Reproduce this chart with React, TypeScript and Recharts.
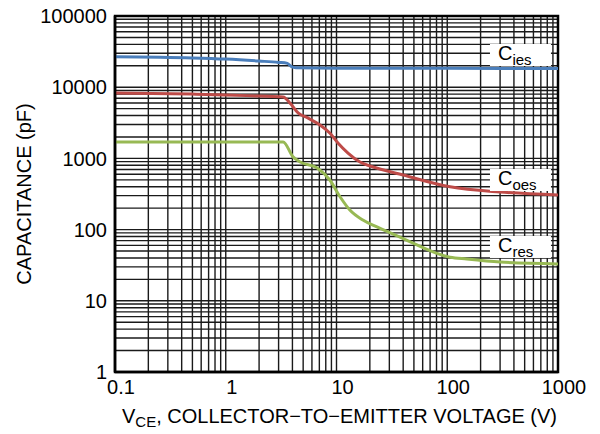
import {
  LineChart,
  Line,
  XAxis,
  YAxis,
  CartesianGrid,
  ReferenceArea,
  ReferenceDot,
  Label
} from "recharts";

const FONT = '"Liberation Sans", Arial, Helvetica, sans-serif';

// Cies: input capacitance
const iesVce = [0.1, 0.5, 1, 2, 3, 3.6, 3.9, 4.3, 10, 100, 1000];
const iesPf = [26800, 25800, 24800, 23300, 22300, 21600, 19500, 18700, 18500, 18400, 18300];

// Coes: output capacitance
const oesVce = [0.1, 0.5, 1, 2, 3.3, 3.8, 4.5, 5.5, 7.1, 8.7, 10.3, 12.7, 16.3, 21.4, 37, 106, 300, 1000];
const oesPf = [8300, 8000, 7800, 7500, 7300, 6000, 4350, 3700, 2950, 2270, 1650, 1190, 890, 757, 604, 400, 337, 306];

// Cres: reverse transfer capacitance
const resVce = [0.1, 1, 3.3, 4.05, 4.7, 6.7, 8.7, 10.8, 13.2, 17.3, 23.2, 37, 106, 150, 300, 1000];
const resPf = [1700, 1700, 1700, 1050, 890, 733, 497, 287, 188, 136, 109, 79, 41, 38.6, 35, 33];

const xDecades = [0.1, 1, 10, 100, 1000];
const yDecades = [1, 10, 100, 1000, 10000, 100000];
const minorSteps = [1, 2, 3, 4, 5, 6, 7, 8, 9];

// every 1..9 multiple inside each decade, so the grid gets a line for each
const logTicks = (decades: number[]) =>
  decades
    .slice(0, -1)
    .flatMap((d) => minorSteps.map((m) => Number((d * m).toPrecision(3))))
    .concat(decades[decades.length - 1]);

const toPoints = (vce: number[], pf: number[]) => vce.map((v, i) => ({ vce: v, pf: pf[i] }));

const decadeLabel = (decades: number[]) => (v: number) =>
  decades.some((d) => Math.abs(d - v) < d * 1e-6) ? String(v) : "";

function CurveTag({ cx, cy, sub }: { cx: number; cy: number; sub: string }) {
  return (
    <g>
      <rect x={cx - 8} y={cy - 16} width={61} height={22} fill="#fff" />
      <text x={cx} y={cy} fontSize={20} fontFamily={FONT} fill="#000">
        C
        <tspan fontSize={15} dy={5}>
          {sub}
        </tspan>
      </text>
    </g>
  );
}

export default function App() {
  return (
    <div style={{ position: "absolute", left: 0, top: 0, background: "#fff" }}>
      <LineChart width={600} height={434} margin={{ top: 16, right: 42, bottom: 0, left: 0 }}>
        <CartesianGrid stroke="#1a1a1a" strokeWidth={1.4} />
        <XAxis
          dataKey="vce"
          type="number"
          scale="log"
          domain={[0.1, 1000]}
          allowDataOverflow
          ticks={logTicks(xDecades)}
          interval={0}
          tickFormatter={decadeLabel(xDecades)}
          tickLine={false}
          axisLine={{ stroke: "#000", strokeWidth: 2.5 }}
          height={62}
          tick={{ fontSize: 20, fill: "#000", fontFamily: FONT, dx: 6 }}
        >
          <Label
            content={(props: any) => {
              const vb = props.viewBox;
              return (
                <text
                  x={vb.x + vb.width / 2 + 3}
                  y={vb.y + 51}
                  textAnchor="middle"
                  fontSize={20}
                  fontFamily={FONT}
                  fill="#000"
                >
                  V
                  <tspan fontSize={15} dy={4}>
                    CE
                  </tspan>
                  <tspan dy={-4}>, COLLECTOR−TO−EMITTER VOLTAGE (V)</tspan>
                </text>
              );
            }}
          />
        </XAxis>
        <YAxis
          dataKey="pf"
          type="number"
          scale="log"
          domain={[1, 100000]}
          allowDataOverflow
          ticks={logTicks(yDecades)}
          interval={0}
          tickFormatter={decadeLabel(yDecades)}
          tickLine={false}
          axisLine={{ stroke: "#000", strokeWidth: 2.5 }}
          width={115}
          tick={{ fontSize: 20, fill: "#000", fontFamily: FONT }}
        >
          <Label
            content={(props: any) => {
              const vb = props.viewBox;
              const cx = vb.x + 31;
              const cy = vb.y + vb.height / 2;
              return (
                <text
                  x={cx}
                  y={cy}
                  transform={`rotate(-90 ${cx} ${cy})`}
                  textAnchor="middle"
                  fontSize={20}
                  fontFamily={FONT}
                  fill="#000"
                >
                  CAPACITANCE (pF)
                </text>
              );
            }}
          />
        </YAxis>
        <ReferenceArea x1={0.1} x2={1000} y1={1} y2={100000} fill="none" stroke="#000" strokeWidth={2.5} />
        <Line
          data={toPoints(iesVce, iesPf)}
          dataKey="pf"
          type="monotone"
          stroke="#4a7ebb"
          strokeWidth={3}
          dot={false}
          isAnimationActive={false}
        />
        <Line
          data={toPoints(oesVce, oesPf)}
          dataKey="pf"
          type="monotone"
          stroke="#be4b48"
          strokeWidth={3}
          dot={false}
          isAnimationActive={false}
        />
        <Line
          data={toPoints(resVce, resPf)}
          dataKey="pf"
          type="monotone"
          stroke="#98b954"
          strokeWidth={3}
          dot={false}
          isAnimationActive={false}
        />
        <ReferenceDot x={287} y={24100} r={0} shape={(p: any) => <CurveTag cx={p.cx} cy={p.cy} sub="ies" />} />
        <ReferenceDot x={287} y={423} r={0} shape={(p: any) => <CurveTag cx={p.cx} cy={p.cy} sub="oes" />} />
        <ReferenceDot x={287} y={48.5} r={0} shape={(p: any) => <CurveTag cx={p.cx} cy={p.cy} sub="res" />} />
      </LineChart>
    </div>
  );
}
